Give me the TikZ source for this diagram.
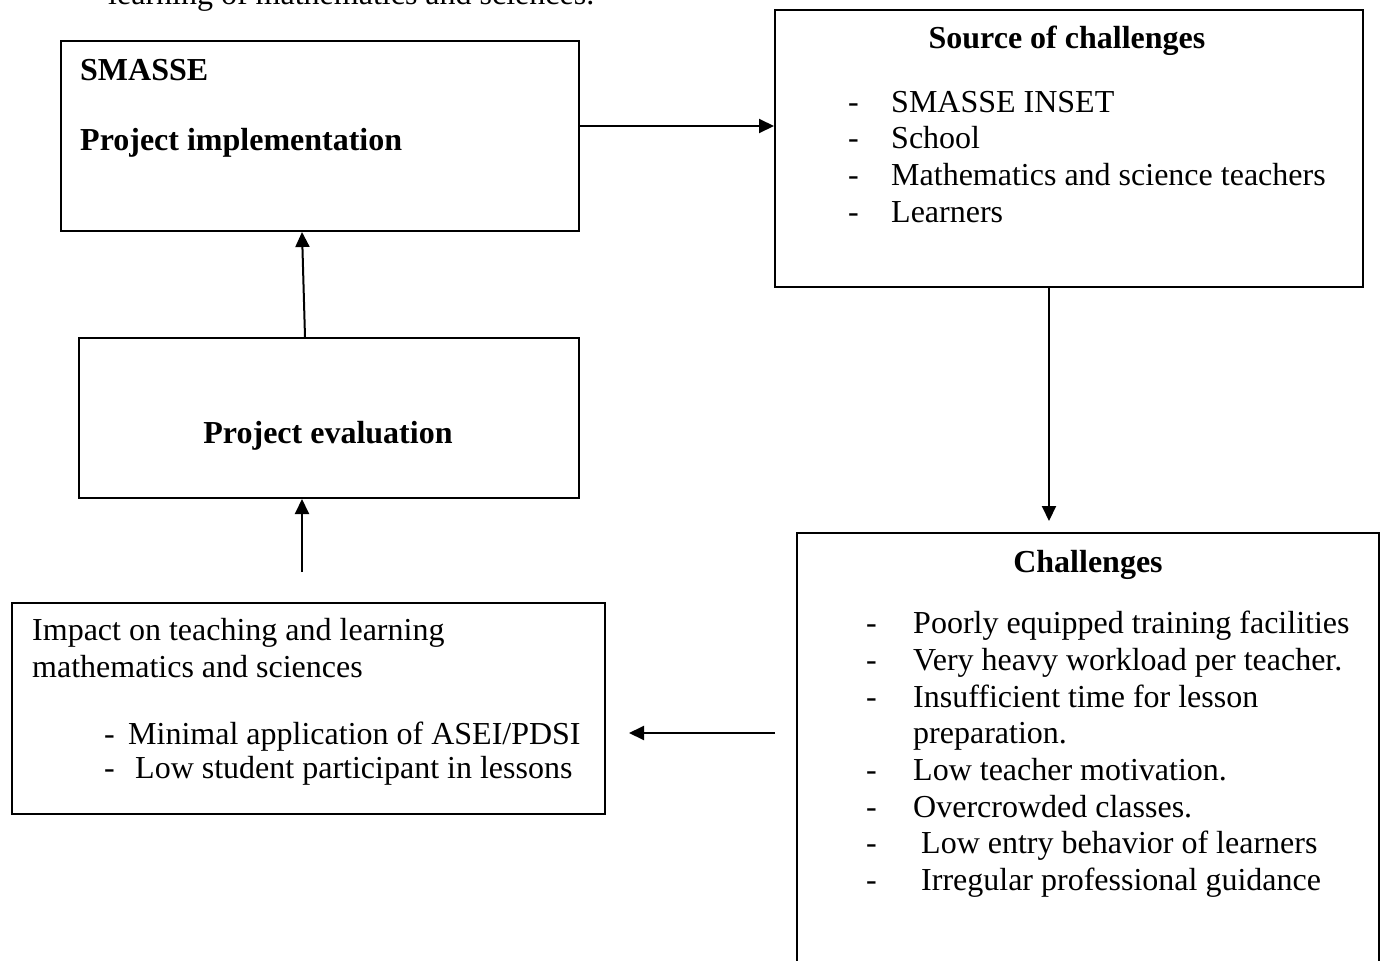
\documentclass[tikz,border=0pt]{standalone}
\usepackage{fontspec}
\setmainfont{Liberation Serif}
\usetikzlibrary{arrows.meta,positioning}

\begin{document}
\begin{tikzpicture}[x=1pt,y=-1pt]
    \tikzset{
        stage box/.style={
            draw=black,
            line width=2pt,
            anchor=north west,
            inner sep=0pt
        },
        flow arrow/.style={-{Triangle[length=15pt,width=14pt]}, line width=2pt},
        body text/.style={anchor=base west, inner sep=0pt, font=\fontsize{32}{37}\selectfont},
        head text/.style={anchor=base, inner sep=0pt, font=\fontsize{32}{37}\selectfont\bfseries},
    }
    \clip (0,0) rectangle (1385,961);

    \node[body text] (lead) at (108,5) {learning of mathematics and sciences.};

    \node[stage box, minimum width=518pt, minimum height=190pt] (impl) at (60,40) {};
    \node[stage box, minimum width=588pt, minimum height=277pt] (src) at (774,9) {};
    \node[stage box, minimum width=582pt, minimum height=500pt] (chal) at (796,532) {};
    \node[stage box, minimum width=593pt, minimum height=211pt] (impact) at (11,602) {};
    \node[stage box, minimum width=500pt, minimum height=160pt] (eval) at (78,337) {};

    \node[body text, font=\fontsize{32}{37}\selectfont\bfseries] (impl-1) at (80,80) {SMASSE};
    \node[body text, font=\fontsize{32}{37}\selectfont\bfseries] (impl-2) at (80,150) {Project implementation};

    \node[head text] (src-h) at (1067,48) {Source of challenges};
    \node[body text] (src-d1) at (848,112) {-};
    \node[body text] (src-d2) at (848,148) {-};
    \node[body text] (src-d3) at (848,185) {-};
    \node[body text] (src-d4) at (848,222) {-};
    \node[body text] (src-1) at (891,112) {SMASSE INSET};
    \node[body text] (src-2) at (891,148) {School};
    \node[body text] (src-3) at (891,185) {Mathematics and science teachers};
    \node[body text] (src-4) at (891,222) {Learners};

    \node[head text] (chal-h) at (1088,572) {Challenges};
    \node[body text] (chal-d1) at (866,633) {-};
    \node[body text] (chal-d2) at (866,670) {-};
    \node[body text] (chal-d3) at (866,707) {-};
    \node[body text] (chal-d4) at (866,780) {-};
    \node[body text] (chal-d5) at (866,817) {-};
    \node[body text] (chal-d6) at (866,853) {-};
    \node[body text] (chal-d7) at (866,890) {-};
    \node[body text] (chal-1) at (913,633) {Poorly equipped training facilities};
    \node[body text] (chal-2) at (913,670) {Very heavy workload per teacher.};
    \node[body text] (chal-3) at (913,707) {Insufficient time for lesson};
    \node[body text] (chal-3b) at (913,743) {preparation.};
    \node[body text] (chal-4) at (913,780) {Low teacher motivation.};
    \node[body text] (chal-5) at (913,817) {Overcrowded classes.};
    \node[body text] (chal-6) at (921,853) {Low entry behavior of learners};
    \node[body text] (chal-7) at (921,890) {Irregular professional guidance};

    \node[body text] (impact-1) at (32,640) {Impact on teaching and learning};
    \node[body text] (impact-2) at (32,677) {mathematics and sciences};
    \node[body text] (impact-d1) at (104,744) {-};
    \node[body text] (impact-d2) at (104,778) {-};
    \node[body text] (impact-3) at (128,744) {Minimal application of ASEI/PDSI};
    \node[body text] (impact-4) at (135,778) {Low student participant in lessons};

    \node[head text] (eval-h) at (328,443) {Project evaluation};

    \draw[flow arrow] (impl.east |- 0,126) -- (src.west |- 0,126);
    \draw[flow arrow, shorten >=11pt] (src.south -| 1049,0) -- (chal.north -| 1049,0);
    \draw[flow arrow, shorten <=21pt, shorten >=23pt] (chal.west |- 0,733) -- (impact.east |- 0,733);
    \draw[flow arrow, shorten <=30pt] (impact.north -| 302,0) -- (eval.south -| 302,0);
    \draw[flow arrow] (eval.north -| 305,0) -- (impl.south -| 302,0);

\end{tikzpicture}
\end{document}
